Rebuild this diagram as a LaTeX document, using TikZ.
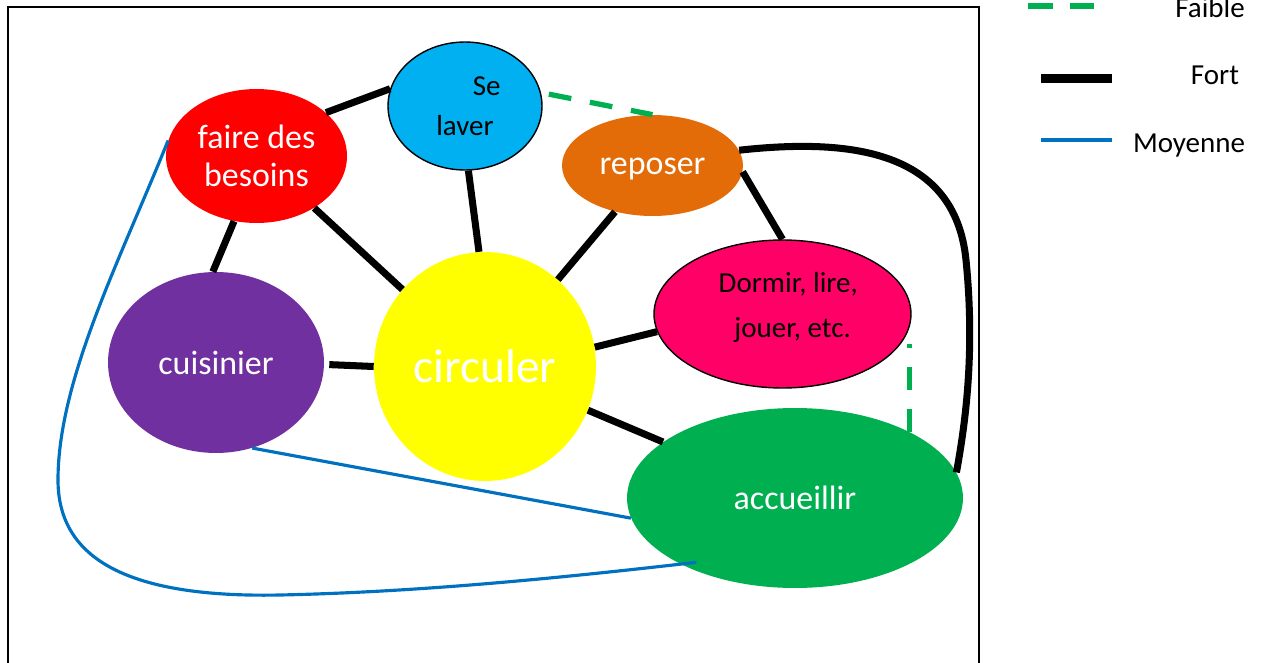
\documentclass[tikz,border=0pt]{standalone}
\usepackage{fontspec}
\setmainfont{Carlito}
\usepackage{xcolor}
\usepackage{tikz}
\usetikzlibrary{shapes.geometric}

\definecolor{rouge}{HTML}{FF0000}
\definecolor{bleuciel}{HTML}{00B0F0}
\definecolor{orangefonce}{HTML}{E36C09}
\definecolor{rose}{HTML}{FF0066}
\definecolor{violetfonce}{HTML}{7030A0}
\definecolor{jaune}{HTML}{FFFF00}
\definecolor{vert}{HTML}{00B050}
\definecolor{bleulien}{HTML}{0070C0}

\begin{document}
\begin{tikzpicture}[
    x=0.02cm, y=-0.02cm,
    bulle/.style={ellipse, inner sep=0pt, align=center, text=white, font=\fontsize{19.3}{21.7}\selectfont},
    petit/.style={font=\fontsize{16.5}{22.8}\selectfont},
    fort/.style={line width=4pt},
    faible/.style={line width=3pt, vert, dash pattern=on 13pt off 10.8pt},
    moyenne/.style={line width=1.8pt, bleulien}
]

\useasboundingbox (0,0) rectangle (1262,663);

% Cadre
\draw[line width=1.2pt] (8,663) -- (8,7) -- (979,7) -- (979,663);

% Activites
\node[bulle, fill=rouge, minimum width=3.62cm, minimum height=2.68cm] (besoins) at (256.5,156) {faire des\\besoins};
\node[bulle, petit, draw, line width=0.8pt, fill=bleuciel, text=black, minimum width=3.08cm, minimum height=2.56cm] (laver) at (465,106) {\hspace*{1.5em}Se\\laver};
\node[bulle, fill=orangefonce, minimum width=3.62cm, minimum height=2.02cm] (reposer) at (652.5,165.5) {\rule{0pt}{0.67em}reposer};
\node[bulle, draw, line width=0.8pt, fill=rose, text=black, font=\fontsize{16.5}{25.6}\selectfont, minimum width=5.14cm, minimum height=2.96cm] (dormir) at (782.5,314) {\hspace*{0.4em}Dormir, lire,\\\hspace*{0.7em}jouer, etc.\rule[-0.62em]{0pt}{0pt}};
\node[bulle, fill=violetfonce, minimum width=4.32cm, minimum height=3.62cm] (cuisinier) at (216,362.5) {cuisinier};
\node[bulle, fill=jaune, font=\fontsize{27}{32}\selectfont, minimum width=4.44cm, minimum height=4.58cm] (circuler) at (485,366.5) {circuler};
\node[bulle, fill=vert, minimum width=6.72cm, minimum height=3.6cm] (accueillir) at (795,498) {accueillir};

% Liens forts
\draw[fort] (besoins.32) -- (laver.167);
\draw[fort] (besoins.-109) -- (cuisinier.92);
\draw[fort] (besoins.-42) -- (circuler.137);
\draw[fort] (laver.-87) -- (circuler.93);
\draw[fort] (reposer.-129) -- (circuler.50);
\draw[fort] (reposer.-4) -- (dormir.north);
\draw[fort] (dormir.-172) -- (circuler.10);
\draw[fort, shorten <=0.1cm] (cuisinier.-1) -- (circuler.180);
\draw[fort] (circuler.-23) -- (accueillir.157);
\draw[fort] (reposer.10) .. controls (850,138) and (955,150) .. (966,260)
    .. controls (975,350) and (966,420) .. (accueillir.9);

% Liens faibles
\draw[faible, shorten <=0.16cm] (laver.10) -- (reposer.north);
\draw[faible] (accueillir.30) -- (accueillir.30 |- dormir.-14);

% Liens moyens
\draw[moyenne] (cuisinier.-67) -- (accueillir.-173);
\draw[moyenne, shorten >=-0.32cm] (besoins.170) .. controls (120,260) and (58,380) .. (58,480)
    .. controls (58,560) and (130,598) .. (280,595)
    .. controls (420,592) and (560,578) .. (accueillir.-150);

% Legende
\draw[faible, dash pattern=on 14pt off 9.7pt] (1028,6) -- (1095,6);
\draw[line width=4.8pt] (1041,78.5) -- (1112,78.5);
\draw[moyenne, line width=2.4pt] (1041,140) -- (1112,140);
\node[petit, anchor=base] (legfaible) at (1210,17) {Faible};
\node[petit, anchor=base] (legfort) at (1215,84) {Fort};
\node[petit, anchor=base] (legmoyenne) at (1189,152) {Moyenne};

\end{tikzpicture}
\end{document}
